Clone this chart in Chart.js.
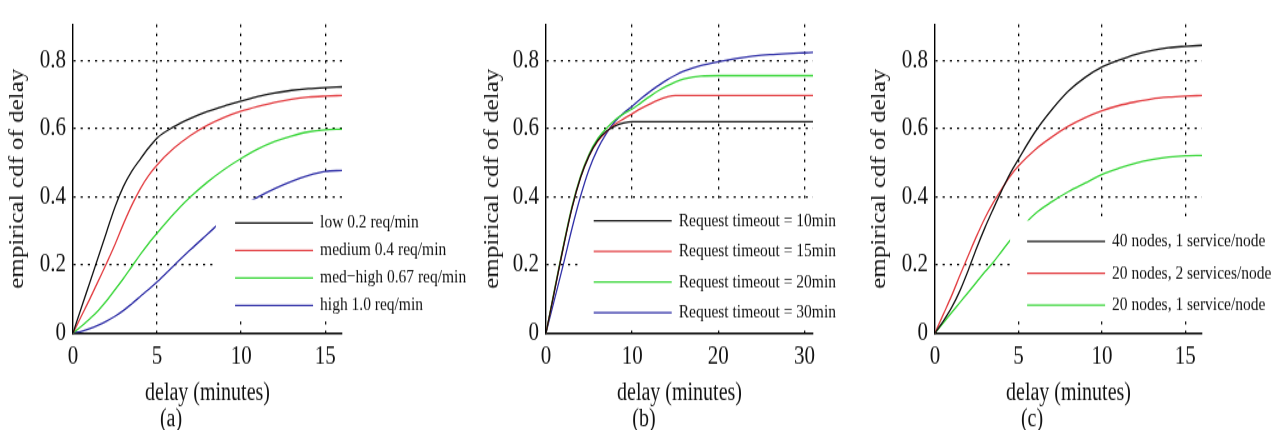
<!DOCTYPE html>
<html>
<head>
<meta charset="utf-8">
<script src="https://cdn.jsdelivr.net/npm/chart.js@4"></script>
<style>
  body { margin: 0; background: #fff; width: 1282px; height: 430px; overflow: hidden; position: relative; }
  .panel { position: absolute; top: 0; transform: scaleY(1.25); transform-origin: 0 0; }
</style>
</head>
<body>
<script>
// tick labels
const yTicks = [0, 0.2, 0.4, 0.6, 0.8];
const xTicksA = [0, 5, 10, 15];
const xTicksB = [0, 10, 20, 30];
const xTicksC = [0, 5, 10, 15];

// (a) request rate
const delayA = [0, 0.5, 1, 1.5, 2, 2.5, 3, 3.5, 4, 4.5, 5, 6, 7, 8, 9, 10, 11, 12, 13, 14, 15, 16];
const lowRate = [0, 0.075, 0.148, 0.222, 0.297, 0.37, 0.43, 0.475, 0.51, 0.543, 0.572, 0.605, 0.63, 0.65, 0.666, 0.68, 0.694, 0.704, 0.712, 0.717, 0.72, 0.722];
const mediumRate = [0, 0.05, 0.1, 0.152, 0.205, 0.26, 0.32, 0.375, 0.423, 0.462, 0.493, 0.542, 0.58, 0.61, 0.633, 0.651, 0.665, 0.677, 0.686, 0.692, 0.695, 0.697];
const medHighRate = [0, 0.02, 0.042, 0.066, 0.095, 0.127, 0.16, 0.195, 0.23, 0.263, 0.293, 0.35, 0.4, 0.443, 0.48, 0.512, 0.54, 0.562, 0.578, 0.59, 0.596, 0.598];
const highRate = [0, 0.005, 0.013, 0.023, 0.035, 0.049, 0.066, 0.086, 0.107, 0.128, 0.15, 0.198, 0.245, 0.29, 0.335, 0.37, 0.399, 0.424, 0.445, 0.462, 0.474, 0.477];

// (b) request timeout
const delayB = [0, 1, 2, 3, 4, 5, 6, 7, 8, 9, 10, 11, 12, 13, 14, 15, 16, 18, 20, 22, 24, 26, 28, 30, 31];
const timeout10 = [0, 0.125, 0.25, 0.365, 0.455, 0.52, 0.565, 0.592, 0.607, 0.616, 0.62, 0.62, 0.62, 0.62, 0.62, 0.62, 0.62, 0.62, 0.62, 0.62, 0.62, 0.62, 0.62, 0.62, 0.62];
const timeout15 = [0, 0.125, 0.25, 0.365, 0.455, 0.52, 0.562, 0.59, 0.612, 0.628, 0.643, 0.658, 0.671, 0.683, 0.692, 0.697, 0.697, 0.697, 0.697, 0.697, 0.697, 0.697, 0.697, 0.697, 0.697];
const timeout20 = [0, 0.13, 0.255, 0.37, 0.46, 0.525, 0.57, 0.6, 0.625, 0.643, 0.657, 0.675, 0.693, 0.71, 0.724, 0.736, 0.745, 0.754, 0.755, 0.755, 0.755, 0.755, 0.755, 0.755, 0.755];
const timeout30 = [0, 0.1, 0.2, 0.305, 0.4, 0.48, 0.54, 0.585, 0.62, 0.645, 0.665, 0.687, 0.707, 0.725, 0.742, 0.756, 0.768, 0.785, 0.796, 0.805, 0.812, 0.817, 0.82, 0.822, 0.823];

// (c) nodes / services
const delayC = [0, 0.5, 1, 1.5, 2, 2.5, 3, 3.5, 4, 4.5, 5, 6, 7, 8, 9, 10, 11, 12, 13, 14, 15, 16];
const nodes40one = [0, 0.035, 0.075, 0.125, 0.185, 0.25, 0.31, 0.365, 0.418, 0.468, 0.51, 0.59, 0.655, 0.71, 0.75, 0.78, 0.8, 0.817, 0.829, 0.837, 0.841, 0.844];
const nodes20two = [0, 0.055, 0.11, 0.17, 0.228, 0.285, 0.338, 0.383, 0.423, 0.46, 0.49, 0.538, 0.575, 0.607, 0.632, 0.652, 0.667, 0.678, 0.687, 0.692, 0.695, 0.697];
const nodes20one = [0, 0.03, 0.06, 0.09, 0.12, 0.15, 0.18, 0.208, 0.24, 0.272, 0.3, 0.35, 0.385, 0.415, 0.44, 0.465, 0.483, 0.498, 0.509, 0.516, 0.52, 0.521];

const FONT = '"Liberation Serif", "Times New Roman", serif';
const INK = '#111';
const COLORS = { black: '#111111', red: '#e23a3e', green: '#36d536', blue: '#2d2da6' };

const pts = (xs, ys) => xs.map((x, i) => ({ x: x, y: ys[i] }));

// legend with an opaque white box, drawn over the curves like the matlab one
const boxLegend = {
  id: 'boxLegend',
  afterDatasetsDraw(chart, args, opts) {
    const { ctx } = chart;
    const x = chart.scales.x, y = chart.scales.y;
    const sets = chart.data.datasets;
    const left = x.getPixelForValue(opts.left);
    const top = y.getPixelForValue(opts.top);
    const row0 = y.getPixelForValue(opts.firstRow);
    const lineX = x.getPixelForValue(opts.lineStart);
    const textX = lineX + 78 + 7;
    ctx.save();
    ctx.font = '15.5px ' + FONT;
    let maxW = 0;
    sets.forEach(d => { maxW = Math.max(maxW, ctx.measureText(d.label).width); });
    const bottom = row0 + opts.rowGap * (sets.length - 1) + 11;
    ctx.fillStyle = '#ffffff';
    ctx.fillRect(left, top, textX + maxW + 4 - left, bottom - top);
    sets.forEach((d, i) => {
      const yy = row0 + i * opts.rowGap;
      ctx.strokeStyle = d.borderColor;
      ctx.lineWidth = d.borderWidth;
      ctx.beginPath();
      ctx.moveTo(lineX, yy);
      ctx.lineTo(lineX + 78, yy);
      ctx.stroke();
      ctx.fillStyle = INK;
      ctx.textBaseline = 'middle';
      ctx.textAlign = 'left';
      ctx.fillText(d.label, textX, yy);
    });
    ctx.restore();
  }
};

function series(label, xs, ys, color) {
  return {
    label: label,
    data: pts(xs, ys),
    borderColor: color,
    backgroundColor: color,
    borderWidth: 1.3,
    pointRadius: 0,
    cubicInterpolationMode: 'monotone',
    fill: false
  };
}

const gridColor = c => (c.tick && c.tick.value === 0) ? 'rgba(0,0,0,0)' : '#000';

function makePanel(p) {
  const wrap = document.createElement('div');
  wrap.className = 'panel';
  wrap.style.left = p.left + 'px';
  const canvas = document.createElement('canvas');
  canvas.width = p.width;
  canvas.height = 344;
  wrap.append(canvas);
  document.body.append(wrap);

  return new Chart(canvas, {
    type: 'line',
    data: { datasets: p.datasets },
    options: {
      responsive: false,
      animation: false,
      devicePixelRatio: 1,
      layout: { padding: { left: 0, right: p.right, top: 12.8, bottom: 0 } },
      scales: {
        x: {
          type: 'linear',
          min: 0,
          max: p.xMax,
          afterBuildTicks: s => { s.ticks = p.xTicks.map(v => ({ value: v })); },
          afterFit: s => { s.height = 61.6; },
          grid: { color: gridColor, lineWidth: 1.3, drawTicks: false },
          border: { display: true, color: '#000', width: 1.4, dash: [2.2, 5] },
          ticks: { color: INK, padding: 6.6, maxRotation: 0, font: { family: FONT, size: 21 } },
          title: { display: true, text: 'delay (minutes)', color: INK, padding: { top: 0, bottom: 1 }, font: { family: FONT, size: 20 } }
        },
        y: {
          min: 0,
          max: 0.905,
          afterBuildTicks: s => { s.ticks = yTicks.map(v => ({ value: v })); },
          afterFit: s => { s.width = p.axisWidth; },
          grid: { color: gridColor, lineWidth: 1.3, drawTicks: false },
          border: { display: true, color: '#000', width: 1.4, dash: [2.2, 5] },
          ticks: { color: INK, padding: 7, font: { family: FONT, size: 21 }, callback: v => String(v) },
          title: { display: true, text: 'empirical cdf of delay', color: INK, padding: { top: 6, bottom: 0 }, font: { family: FONT, size: 20 } }
        }
      },
      plugins: {
        legend: { display: false },
        tooltip: { enabled: false },
        title: {
          display: true,
          text: p.caption,
          position: 'bottom',
          color: INK,
          padding: 0,
          font: { family: FONT, size: 20, weight: 'normal', lineHeight: 0.8 }
        },
        boxLegend: p.legend
      }
    },
    plugins: [boxLegend]
  });
}

makePanel({
  left: 0, width: 475, right: 133, axisWidth: 73, xMax: 16, xTicks: xTicksA, caption: '(a)',
  legend: { left: 8.5, top: 0.392, lineStart: 9.64, firstRow: 0.323, rowGap: 22 },
  datasets: [
    series('low 0.2 req/min', delayA, lowRate, COLORS.black),
    series('medium 0.4 req/min', delayA, mediumRate, COLORS.red),
    series('med\u2212high 0.67 req/min', delayA, medHighRate, COLORS.green),
    series('high 1.0 req/min', delayA, highRate, COLORS.blue)
  ]
});

makePanel({
  left: 475, width: 385, right: 47, axisWidth: 71, xMax: 31, xTicks: xTicksB, caption: '(b)',
  legend: { left: 3.9, top: 0.38, lineStart: 5.54, firstRow: 0.329, rowGap: 24.5 },
  datasets: [
    series('Request timeout = 10min', delayB, timeout10, COLORS.black),
    series('Request timeout = 15min', delayB, timeout15, COLORS.red),
    series('Request timeout = 20min', delayB, timeout20, COLORS.green),
    series('Request timeout = 30min', delayB, timeout30, COLORS.blue)
  ]
});

makePanel({
  left: 862, width: 420, right: 80, axisWidth: 73, xMax: 16, xTicks: xTicksC, caption: '(c)',
  legend: { left: 4.5, top: 0.33, lineStart: 5.52, firstRow: 0.269, rowGap: 25.5 },
  datasets: [
    series('40 nodes, 1 service/node', delayC, nodes40one, COLORS.black),
    series('20 nodes, 2 services/node', delayC, nodes20two, COLORS.red),
    series('20 nodes, 1 service/node', delayC, nodes20one, COLORS.green)
  ]
});
</script>
</body>
</html>
